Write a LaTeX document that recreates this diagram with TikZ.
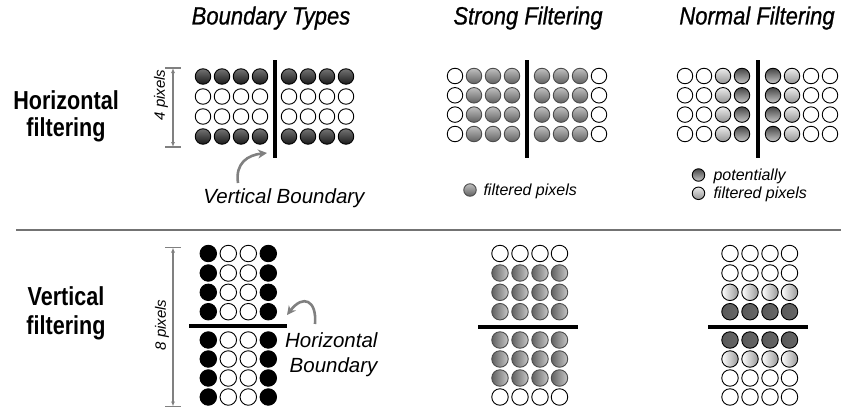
\documentclass[tikz,border=0pt]{standalone}
\usepackage{fontspec}
\setmainfont{Liberation Sans}
\newfontfamily\condsans[FakeStretch=0.88]{Liberation Sans}
\newfontfamily\heavycond[FakeStretch=0.88,FakeBold=0.8]{Liberation Sans}
\newfontfamily\labelsans[FakeStretch=0.83]{Liberation Sans}
\usetikzlibrary{arrows.meta}
\begin{document}
\begin{tikzpicture}[x=1pt,y=-1pt,
  px/.style={circle,draw=black,line width=0.9pt,inner sep=0pt,minimum size=15.5pt},
  pxb/.style={px,minimum size=16.5pt},
  wpx/.style={fill=white},
  tdark/.style={top color=black!55,bottom color=black!90},
  kpx/.style={fill=black},
  sgray/.style={top color=black!25,bottom color=black!62,draw=black!70},
  sgrayv/.style={left color=black!62,right color=black!22,draw=black!70},
  nlight/.style={top color=black!8,bottom color=black!42},
  ndark/.style={top color=black!72,bottom color=black!22},
  nlightv/.style={left color=white,right color=black!40},
  ndarkv/.style={left color=black!65,middle color=black!22,right color=black!60},
  bline/.style={line width=4pt,black},
  dimline/.style={draw=black!50,line width=1.1pt,{Latex[length=5pt,width=4pt]}-{Latex[length=5pt,width=4pt]}},
  dimcap/.style={draw=black!50,line width=1.1pt},
  hint/.style={draw=black!50,line width=2.6pt,-{Stealth[length=9pt,width=9pt]}},
  title/.style={font=\heavycond\itshape\fontsize{25}{30}\selectfont},
  rowlab/.style={font=\labelsans\bfseries\fontsize{26}{30}\selectfont,anchor=base},
  lab/.style={font=\itshape\fontsize{20.5}{24}\selectfont},
  small/.style={font=\itshape\fontsize{16}{19}\selectfont,anchor=base west},
  dimlab/.style={font=\itshape\fontsize{15}{17}\selectfont,rotate=90}
]
\useasboundingbox (0,0) rectangle (841,410);

% column titles
\node[title] (tBT) at (271,18) {Boundary Types};
\node[title] (tSF) at (528,18) {Strong Filtering};
\node[title] (tNF) at (757,18) {Normal Filtering};

% row titles
\node[rowlab] (hl1) at (66,109) {Horizontal};
\node[rowlab] (hl2) at (66,136) {filtering};
\node[rowlab] (vl1) at (66,305) {Vertical};
\node[rowlab] (vl2) at (66,334) {filtering};

% separator
\coordinate (sepL) at (16,230);
\coordinate (sepR) at (841,230);
\draw[draw=black!55,line width=2.4pt] (sepL) -- (sepR);

% ---------- horizontal filtering: vertical boundaries ----------
\foreach \c/\x in {1/203,2/222,3/241,4/260,5/289,6/308,7/327,8/346}
  \foreach \r/\y/\s in {1/76.5/tdark,2/96.5/wpx,3/116.5/wpx,4/136.5/tdark}
    \node[px,\s] (hb-\r-\c) at (\x,\y) {};
\coordinate (vb1t) at (274.5,60); \coordinate (vb1b) at (274.5,158);
\draw[bline] (vb1t) -- (vb1b);

\foreach \c/\x/\s in {1/455/wpx,2/474/sgray,3/493/sgray,4/512/sgray,5/542/sgray,6/561/sgray,7/580/sgray,8/599/wpx}
  \foreach \r/\y in {1/76,2/95.3,3/114.6,4/134}
    \node[px,\s] (hs-\r-\c) at (\x,\y) {};
\coordinate (vb2t) at (527,60); \coordinate (vb2b) at (527,158);
\draw[bline] (vb2t) -- (vb2b);

\foreach \c/\x/\s in {1/685/wpx,2/704/wpx,3/723/nlight,4/742/ndark,5/773/ndark,6/792/nlight,7/811/wpx,8/830/wpx}
  \foreach \r/\y in {1/76,2/95.3,3/114.6,4/134}
    \node[px,\s] (hn-\r-\c) at (\x,\y) {};
\coordinate (vb3t) at (757.5,60); \coordinate (vb3b) at (757.5,158);
\draw[bline] (vb3t) -- (vb3b);

% 4 pixels dimension
\coordinate (d4t) at (173,68); \coordinate (d4b) at (173,147);
\draw[dimline] (d4t) -- (d4b);
\draw[dimcap] ([xshift=-8pt]d4t) -- ([xshift=8pt]d4t);
\draw[dimcap] ([xshift=-8pt]d4b) -- ([xshift=8pt]d4b);
\node[dimlab] (d4l) at (161,95) {4 pixels};

% vertical boundary label and pointer
\node[lab] (vbl) at (284,198) {Vertical Boundary};
\coordinate (a1s) at (238,183);
\coordinate (a1e) at (267,153);
\draw[hint] (a1s) .. controls (235,163) and (248,155) .. (a1e);

% legends
\node[px,sgray,minimum size=12.5pt] (lgS) at (470,190) {};
\node[small] (lgSt) at (480,195.5) {filtered pixels};
\node[px,ndark,minimum size=12.5pt] (lgN1) at (698.5,175) {};
\node[small] (lgN1t) at (710,180.5) {potentially};
\node[px,nlight,minimum size=12.5pt] (lgN2) at (698.5,193.3) {};
\node[small] (lgN2t) at (710,198.8) {filtered pixels};

% ---------- vertical filtering: horizontal boundaries ----------
\foreach \r/\y in {1/253.5,2/273,3/292.3,4/311.7,5/340,6/359,7/378,8/397}
  \foreach \c/\x/\s in {1/208.3/kpx,2/228.3/wpx,3/248.3/wpx,4/268.3/kpx}
    \node[pxb,\s] (vb-\r-\c) at (\x,\y) {};
\coordinate (hb1l) at (189,326); \coordinate (hb1r) at (287,326);
\draw[bline] (hb1l) -- (hb1r);

\foreach \r/\y/\s in {1/253.5/wpx,2/273/sgrayv,3/292.3/sgrayv,4/311.7/sgrayv,5/340/sgrayv,6/359/sgrayv,7/378/sgrayv,8/397/wpx}
  \foreach \c/\x in {1/500,2/520,3/540,4/559.5}
    \node[pxb,\s] (vs-\r-\c) at (\x,\y) {};
\coordinate (hb2l) at (478,326.5); \coordinate (hb2r) at (577.5,326.5);
\draw[bline] (hb2l) -- (hb2r);

\foreach \r/\y/\s in {1/253.5/wpx,2/273/wpx,3/292.3/nlightv,4/311.7/ndarkv,5/340/ndarkv,6/359/nlightv,7/378/wpx,8/397/wpx}
  \foreach \c/\x in {1/730,2/750,3/770,4/789.5}
    \node[pxb,\s] (vn-\r-\c) at (\x,\y) {};
\coordinate (hb3l) at (708,326.5); \coordinate (hb3r) at (807.5,326.5);
\draw[bline] (hb3l) -- (hb3r);

% 8 pixels dimension
\coordinate (d8t) at (173,247.5); \coordinate (d8b) at (173,406.5);
\draw[dimline] (d8t) -- (d8b);
\draw[dimcap] ([xshift=-8pt]d8t) -- ([xshift=8pt]d8t);
\draw[dimcap] ([xshift=-8pt]d8b) -- ([xshift=8pt]d8b);
\node[dimlab] (d8l) at (162,325) {8 pixels};

% horizontal boundary label and pointer
\node[lab,anchor=base east] (hbl1) at (381,347) {Horizontal};
\node[lab,anchor=base east] (hbl2) at (381,372.5) {Boundary};
\coordinate (a2s) at (315,324);
\coordinate (a2e) at (287,315);
\draw[hint] (a2s) .. controls (317,300) and (303,294) .. (a2e);
\end{tikzpicture}
\end{document}
